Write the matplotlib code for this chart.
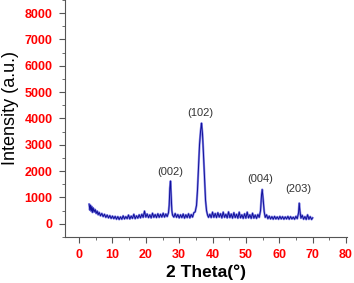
import matplotlib
matplotlib.use("Agg")
import matplotlib.pyplot as plt
from matplotlib.ticker import MultipleLocator

plt.rcParams['font.family'] = ['Liberation Sans', 'DejaVu Sans']

# XRD pattern (2 theta in degrees, intensity in a.u.)
two_theta = [
    3.0, 3.2, 3.4, 3.6, 3.8, 4.0, 4.2, 4.5, 4.8, 5.1, 5.4, 5.7, 6.0, 6.4, 6.8,
    7.2, 7.6, 8.0, 8.4, 8.8, 9.2, 9.6, 10.0, 10.4, 10.8, 11.2, 11.6, 12.0,
    12.4, 12.8, 13.2, 13.6, 14.0, 14.4, 14.8, 15.2, 15.6, 16.0, 16.4, 16.8,
    17.2, 17.6, 18.0, 18.4, 18.8, 19.2, 19.6, 20.0, 20.4, 20.8, 21.2, 21.6,
    22.0, 22.4, 22.8, 23.2, 23.6, 24.0, 24.4, 24.8, 25.2, 25.6, 26.0, 26.4,
    26.8, 27.0, 27.2, 27.4, 27.6, 27.8, 28.0, 28.4, 28.8, 29.2, 29.6, 30.0,
    30.4, 30.8, 31.2, 31.6, 32.0, 32.4, 32.8, 33.2, 33.6, 34.0, 34.4, 34.8,
    35.2, 35.5, 35.8, 36.1, 36.4, 36.7, 37.0, 37.3, 37.6, 37.9, 38.2, 38.5,
    38.8, 39.2, 39.6, 40.0, 40.4, 40.8, 41.2, 41.6, 42.0, 42.4, 42.8, 43.2,
    43.6, 44.0, 44.4, 44.8, 45.2, 45.6, 46.0, 46.4, 46.8, 47.2, 47.6, 48.0,
    48.4, 48.8, 49.2, 49.6, 50.0, 50.4, 50.8, 51.2, 51.6, 52.0, 52.4, 52.8,
    53.2, 53.6, 54.0, 54.4, 54.7, 54.9, 55.2, 55.5, 55.8, 56.2, 56.6, 57.0,
    57.4, 57.8, 58.2, 58.6, 59.0, 59.4, 59.8, 60.2, 60.6, 61.0, 61.4, 61.8,
    62.2, 62.6, 63.0, 63.4, 63.8, 64.2, 64.6, 65.0, 65.4, 65.8, 66.0, 66.2,
    66.5, 66.9, 67.3, 67.7, 68.1, 68.5, 68.9, 69.3, 69.7, 70.0,
]
intensity = [
    740, 520, 700, 480, 650, 430, 600, 450, 540, 390, 480, 340, 430, 300, 390,
    270, 360, 240, 330, 220, 310, 200, 290, 190, 280, 170, 270, 160,
    260, 170, 300, 180, 270, 190, 330, 180, 290, 200, 360, 190,
    300, 210, 340, 220, 360, 240, 480, 250, 370, 230, 340, 220,
    400, 240, 350, 230, 380, 240, 360, 250, 400, 250, 370, 270,
    420, 700, 1350, 1620, 1100, 500, 330, 250, 390, 240, 350, 220,
    340, 230, 370, 210, 340, 230, 380, 220, 350, 250, 420, 450,
    700, 1300, 2200, 3000, 3500, 3820, 3400, 2600, 1700, 900, 500, 330,
    240, 360, 230, 440, 240, 390, 230, 420, 250, 380, 220, 440,
    240, 360, 220, 450, 230, 370, 210, 420, 230, 360, 210, 440,
    220, 340, 200, 380, 210, 440, 220, 340, 200, 400, 210, 330,
    200, 350, 240, 500, 1100, 1300, 900, 450, 240, 340, 190, 290,
    180, 270, 170, 280, 180, 260, 170, 280, 180, 270, 170, 260,
    180, 280, 170, 270, 180, 250, 170, 280, 190, 420, 780, 500,
    210, 320, 170, 270, 160, 340, 170, 270, 160, 220,
]

peak_labels = ['(002)', '(102)', '(004)', '(203)']
peak_x = [27.2, 36.3, 54.3, 65.6]
peak_y = [1950, 4200, 1700, 1330]

fig = plt.figure(figsize=(3.54, 2.83), dpi=100)
ax = fig.add_axes([0.184, 0.163, 0.796, 0.837])

ax.plot(two_theta, intensity, color='#8c8ce8', lw=1.6)
ax.plot(two_theta, intensity, color='#10109a', lw=0.7)

for lab, px, py in zip(peak_labels, peak_x, peak_y):
    ax.text(px, py, lab, ha='center', va='center', fontsize=8, color='#333333')

ax.set_xlim(-4.2, 80.3)
ax.set_ylim(-500, 8500)
ax.xaxis.set_major_locator(MultipleLocator(10))
ax.xaxis.set_minor_locator(MultipleLocator(5))
ax.yaxis.set_major_locator(MultipleLocator(1000))
ax.yaxis.set_minor_locator(MultipleLocator(500))

ax.spines['top'].set_visible(False)
ax.spines['right'].set_visible(False)
for s in ['left', 'bottom']:
    ax.spines[s].set_color('#555555')
    ax.spines[s].set_linewidth(0.8)

ax.tick_params(which='major', length=4, width=0.8, color='#555555',
               labelsize=9, labelcolor='red', direction='out', pad=5)
ax.tick_params(which='minor', length=2, width=0.6, color='#555555', direction='out')
for lbl in ax.get_xticklabels() + ax.get_yticklabels():
    lbl.set_fontweight('bold')

ax.set_xlabel('2 Theta(°)', fontsize=12.5, fontweight='bold', va='center')
ax.set_ylabel('Intensity (a.u.)', fontsize=13, va='center')
ax.xaxis.set_label_coords(0.5, -0.148)
ax.yaxis.set_label_coords(-0.195, 0.545)

fig.savefig('out.png', dpi=100)
